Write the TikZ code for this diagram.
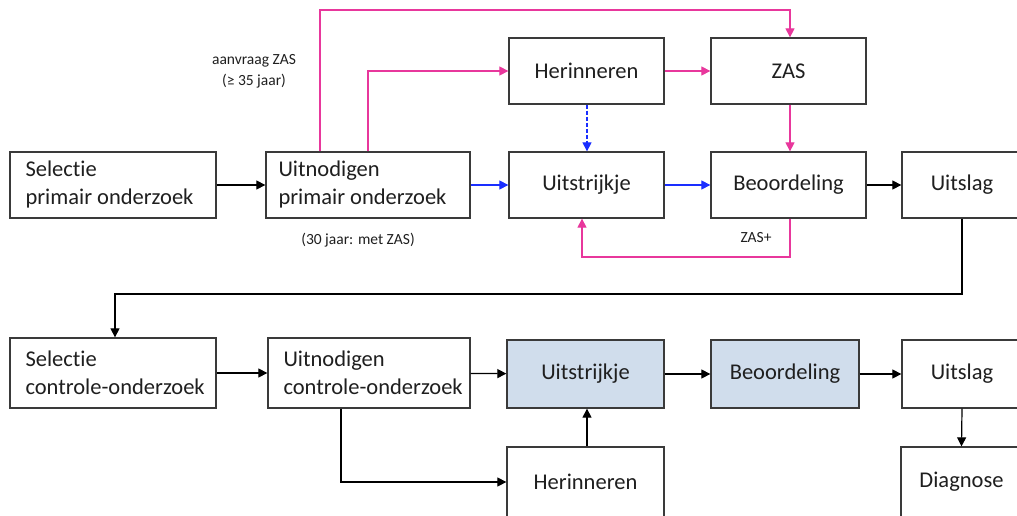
\documentclass[tikz,border=0pt]{standalone}
\usepackage{fontspec}
\setmainfont{Carlito}[Ligatures=NoCommon]
\usetikzlibrary{arrows.meta}
\definecolor{pinkc}{HTML}{E8379C}
\definecolor{bluec}{HTML}{1A2EFF}
\definecolor{boxfill}{HTML}{D0DDEC}
\definecolor{edgec}{HTML}{3A3A3A}
\tikzset{
  box/.style={draw=edgec, line width=1.3pt, fill=white, minimum height=66pt, inner sep=0pt, font=\fontsize{22.5}{27}\selectfont, text=black!88},
  sel/.style={box, fill=boxfill},
  ltext/.style={anchor=west, align=left, font=\fontsize{22.5}{28}\selectfont, text=black!88},
  conn/.style={line width=1.2pt, -{Triangle[length=9pt,width=9pt]}},
  blk/.style={conn, draw=black},
  pnk/.style={conn, draw=pinkc},
  blu/.style={conn, draw=bluec},
  lab/.style={font=\fontsize{15.5}{21}\selectfont, text=black!88, align=center}
}
\begin{document}
\begin{tikzpicture}[x=1pt,y=-1pt]
\useasboundingbox (0,0) rectangle (1017,516);
\clip (0,0) rectangle (1017,516);
\fill[white] (0,0) rectangle (1017,516);

% top row
\node[box, minimum width=206pt] (selp) at (113,185) {};
\node[ltext] (selpt) at (22,185) {Selectie\\primair onderzoek};
\node[box, minimum width=204pt] (uitp) at (368,185) {};
\node[ltext] (uitpt) at (275,185) {Uitnodigen\\primair onderzoek};
\node[box, minimum width=155pt] (herp) at (586.5,71) {Herinneren};
\node[box, minimum width=155pt] (zas) at (788.5,71) {ZAS};
\node[box, minimum width=155pt] (strp) at (586.5,185) {Uitstrijkje};
\node[box, minimum width=155pt] (beop) at (788.5,185) {Beoordeling};
\node[box, minimum width=120pt] (slagp) at (962,185) {Uitslag};

% bottom row
\node[box, minimum width=206pt, minimum height=70pt] (selc) at (113,373) {};
\node[ltext] (selct) at (22,373) {Selectie\\controle-onderzoek};
\node[box, minimum width=202pt, minimum height=70pt] (uitc) at (369,373) {};
\node[ltext] (uitct) at (280,373) {Uitnodigen\\controle-onderzoek};
\node[sel, minimum width=157pt, minimum height=68pt] (strc) at (585.5,374) {Uitstrijkje};
\node[sel, minimum width=148pt, minimum height=68pt] (beoc) at (785,374) {Beoordeling};
\node[box, minimum width=120pt, minimum height=68pt] (slagc) at (962,374) {Uitslag};
\node[box, minimum width=157pt, minimum height=70pt] (herc) at (585.5,482) {Herinneren};
\node[box, minimum width=121pt, minimum height=70pt] (diag) at (961.5,482) {Diagnose};

% labels
\node[lab] (l1) at (254,71) {aanvraag ZAS\\(≥ 35 jaar)};
\node[lab] (l2) at (358,240) {(30 jaar: met ZAS)};
\node[lab] (l3) at (756,238) {ZAS+};

% top connectors
\draw[blk] (selp) -- (uitp);
\draw[blu] (uitp) -- (strp);
\draw[blu] (strp) -- (beop);
\draw[blk] (beop) -- (slagp);
\draw[pnk] (uitp.north -| 320,0) |- (790,10) -- (zas.north -| 790,0);
\draw[pnk] (uitp.north -| 368,0) |- (herp.west);
\draw[pnk] (herp) -- (zas);
\draw[pnk] (zas.south -| 790,0) -- (beop.north -| 790,0);
\draw[pnk] (beop.south -| 790,0) |- (582,257) -- (strp.south -| 582,0);
\draw[blu, dash pattern=on 4pt off 2pt] (herp.south -| 587,0) -- (strp.north -| 587,0);
\draw[blk] (slagp.south) |- (115,294) -- (selc.north -| 115,0);

% bottom connectors
\draw[blk] (selc) -- (uitc);
\draw[blk] (uitc) -- (strc);
\draw[blk] (strc) -- (beoc);
\draw[blk] (beoc) -- (slagc);
\draw[blk] (uitc.south -| 341,0) |- (herc.west);
\draw[blk] (herc.north -| 587,0) -- (strc.south -| 587,0);
\draw[blk] (slagc.south) -- (diag.north);
\end{tikzpicture}
\end{document}
